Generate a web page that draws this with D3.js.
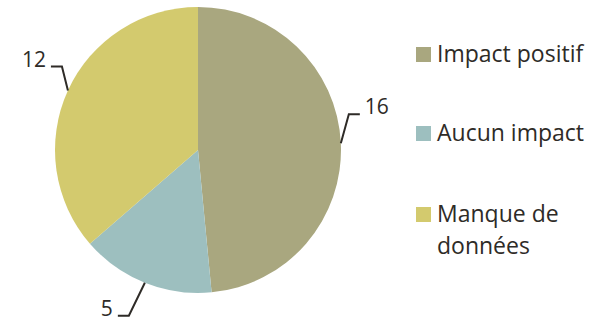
<!DOCTYPE html>
<html>
<head>
<meta charset="utf-8">
<script src="https://cdn.jsdelivr.net/npm/d3@7"></script>
<style>
  body { margin: 0; background: #fff; }
  text { font-family: "Open Sans", "Lato", sans-serif; fill: #2e2b27; }
</style>
</head>
<body>
<svg id="chart" width="597" height="320"></svg>
<script>
// data
const categories = ["Impact positif", "Aucun impact", "Manque de données"];
const values = [16, 5, 12];
const legendLines = [["Impact positif"], ["Aucun impact"], ["Manque de", "données"]];
const colors = ["#a9a77f", "#9dbfbf", "#d3ca6e"];

// leader line elbows, relative to the point on the arc: [elbow dx, dy, tail dx]
const leaderLayout = [[8, -29, 11], [-16, 33, -11], [-6, -24, -11]];

const width = 597, height = 320;
const cx = 198, cy = 150, radius = 143;

const svg = d3.select("#chart");
const g = svg.append("g").attr("transform", `translate(${cx}, ${cy})`);

const pie = d3.pie().sort(null).value(d => d)(values);
const arc = d3.arc().innerRadius(0).outerRadius(radius);

g.selectAll("path")
  .data(pie)
  .join("path")
  .attr("d", arc)
  .attr("fill", (d, i) => colors[i]);

// leader lines + labels
pie.forEach((d, i) => {
  const a = (d.startAngle + d.endAngle) / 2;
  const x0 = radius * Math.sin(a), y0 = -radius * Math.cos(a);
  const [ex, ey, tx] = leaderLayout[i];
  const x1 = x0 + ex, y1 = y0 + ey, x2 = x1 + tx;
  g.append("path")
    .attr("d", d3.line()([[x0, y0], [x1, y1], [x2, y1]]))
    .attr("fill", "none")
    .attr("stroke", "#2e2b27")
    .attr("stroke-width", 2);
  const right = tx > 0;
  g.append("text")
    .attr("x", x2 + (right ? 5 : -5))
    .attr("y", y1)
    .attr("text-anchor", right ? "start" : "end")
    .style("font-size", "21px")
    .text(d.data);
});

// legend
const legend = svg.append("g").attr("transform", "translate(416, 47)");
const rowY = [0, 79, 160];
legendLines.forEach((lines, i) => {
  const row = legend.append("g").attr("transform", `translate(0, ${rowY[i]})`);
  row.append("rect")
    .attr("width", 15).attr("height", 15)
    .attr("fill", colors[i]);
  const t = row.append("text")
    .attr("x", 21)
    .attr("y", 15)
    .style("font-size", "23px");
  lines.forEach((l, j) => {
    t.append("tspan").attr("x", 21).attr("dy", j === 0 ? 0 : 32).text(l);
  });
});
</script>
</body>
</html>
